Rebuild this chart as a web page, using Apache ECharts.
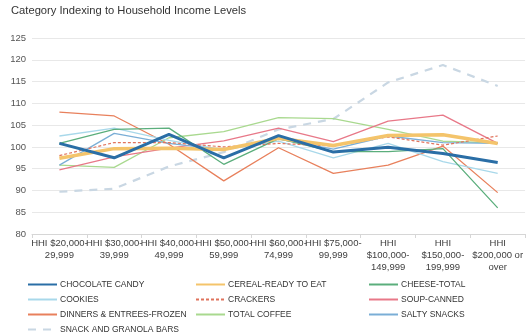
<!DOCTYPE html>
<html>
<head>
<meta charset="utf-8">
<script src="https://cdn.jsdelivr.net/npm/echarts@6/dist/echarts.min.js"></script>
<style>
  html, body { margin: 0; padding: 0; background: #fff; }
  #chart { width: 526px; height: 336px; }
</style>
</head>
<body>
<div id="chart"></div>
<script>
// Income brackets (x axis)
const incomeBrackets = [
  'HHI $20,000-\n29,999',
  'HHI $30,000-\n39,999',
  'HHI $40,000-\n49,999',
  'HHI $50,000-\n59,999',
  'HHI $60,000-\n74,999',
  'HHI $75,000-\n99,999',
  'HHI\n$100,000-\n149,999',
  'HHI\n$150,000-\n199,999',
  'HHI\n$200,000 or\nover'
];

// Index values per category (100 = average household)
const chocolateCandy = [100.8, 97.5, 102.9, 97.5, 102.6, 98.8, 99.9, 98.5, 96.4];
const cerealReadyToEat = [97.4, 99.6, 99.7, 99.4, 102.0, 100.3, 102.6, 102.8, 100.8];
const cheeseTotal = [100.8, 104.0, 104.3, 96.0, 101.9, 98.9, 98.9, 99.6, 86.0];
const cookies = [102.5, 104.3, 101.5, 99.3, 101.3, 97.5, 100.8, 96.6, 93.9];
const crackers = [98.0, 101.0, 101.0, 100.0, 100.8, 100.2, 102.3, 100.4, 102.5];
const soupCanned = [94.7, 97.7, 99.7, 101.4, 104.3, 101.2, 105.9, 107.3, 100.8];
const dinnersFrozen = [108.0, 107.1, 100.6, 92.2, 99.8, 93.9, 95.8, 100.2, 89.5];
const totalCoffee = [95.8, 95.3, 102.1, 103.5, 106.7, 106.5, 104.0, 101.3, 100.9];
const saltySnacks = [95.8, 103.1, 100.8, 99.3, 101.8, 99.5, 102.5, 101.0, 100.8];
const snackGranolaBars = [89.7, 90.4, 95.5, 98.8, 104.0, 106.4, 114.8, 118.8, 114.0];

// Y axis ticks
const yMin = 80, yMax = 125, yStep = 5;

const FONT = 'Liberation Sans, Arial, Helvetica, sans-serif';

function lineSeries(name, data, color, width, type) {
  return {
    name: name,
    type: 'line',
    data: data,
    symbol: 'none',
    smooth: false,
    lineStyle: { color: color, width: width, type: type || 'solid' },
    itemStyle: { color: color },
    emphasis: { disabled: true }
  };
}

const series = [
  lineSeries('SNACK AND GRANOLA BARS', snackGranolaBars, '#c9d7e3', 2.2, [8, 7]),
  lineSeries('DINNERS & ENTREES-FROZEN', dinnersFrozen, '#e8805c', 1.3),
  lineSeries('TOTAL COFFEE', totalCoffee, '#a9d98f', 1.3),
  lineSeries('SOUP-CANNED', soupCanned, '#e87888', 1.3),
  lineSeries('COOKIES', cookies, '#a8d8ea', 1.3),
  lineSeries('SALTY SNACKS', saltySnacks, '#7aaed6', 1.3),
  lineSeries('CHEESE-TOTAL', cheeseTotal, '#5bae7c', 1.3),
  lineSeries('CRACKERS', crackers, '#e0735c', 1.2, [3, 2]),
  lineSeries('CEREAL-READY TO EAT', cerealReadyToEat, '#f4c46b', 3.5),
  lineSeries('CHOCOLATE CANDY', chocolateCandy, '#2a6ea6', 3)
];

function legendCol(names, left) {
  return {
    data: names,
    orient: 'vertical',
    left: left,
    top: 280,
    padding: 0,
    itemWidth: 29,
    itemHeight: 10,
    itemGap: 6,
    itemStyle: { opacity: 0 },
    textStyle: { fontSize: 8.5, color: '#333', fontFamily: FONT, padding: [0, 0, 0, -2] },
    selectedMode: false
  };
}

const chart = echarts.init(document.getElementById('chart'), null, { renderer: 'canvas' });
chart.setOption({
  animation: false,
  backgroundColor: '#fff',
  title: {
    text: 'Category Indexing to Household Income Levels',
    left: 11,
    top: 5,
    padding: 0,
    textStyle: { fontSize: 11.2, fontWeight: 'normal', color: '#333', fontFamily: FONT }
  },
  legend: [
    legendCol(['CHOCOLATE CANDY', 'COOKIES', 'DINNERS & ENTREES-FROZEN', 'SNACK AND GRANOLA BARS'], 27),
    legendCol(['CEREAL-READY TO EAT', 'CRACKERS', 'TOTAL COFFEE'], 195),
    legendCol(['CHEESE-TOTAL', 'SOUP-CANNED', 'SALTY SNACKS'], 368)
  ],
  grid: { left: 32, right: 0, top: 38, bottom: 102, containLabel: false },
  xAxis: {
    type: 'category',
    data: incomeBrackets,
    boundaryGap: true,
    axisLine: { lineStyle: { color: '#d6d6d6' } },
    axisTick: { show: true, length: 4, lineStyle: { color: '#d6d6d6' } },
    axisLabel: {
      interval: 0,
      fontSize: 9.5,
      lineHeight: 12,
      margin: 3,
      color: '#404040',
      fontFamily: FONT
    }
  },
  yAxis: {
    type: 'value',
    min: yMin,
    max: yMax,
    interval: yStep,
    axisLine: { show: false },
    axisTick: { show: false },
    splitLine: { lineStyle: { color: '#e8e8e8' } },
    axisLabel: { fontSize: 9.5, color: '#555', margin: 6, fontFamily: FONT }
  },
  series: series
});
</script>
</body>
</html>
